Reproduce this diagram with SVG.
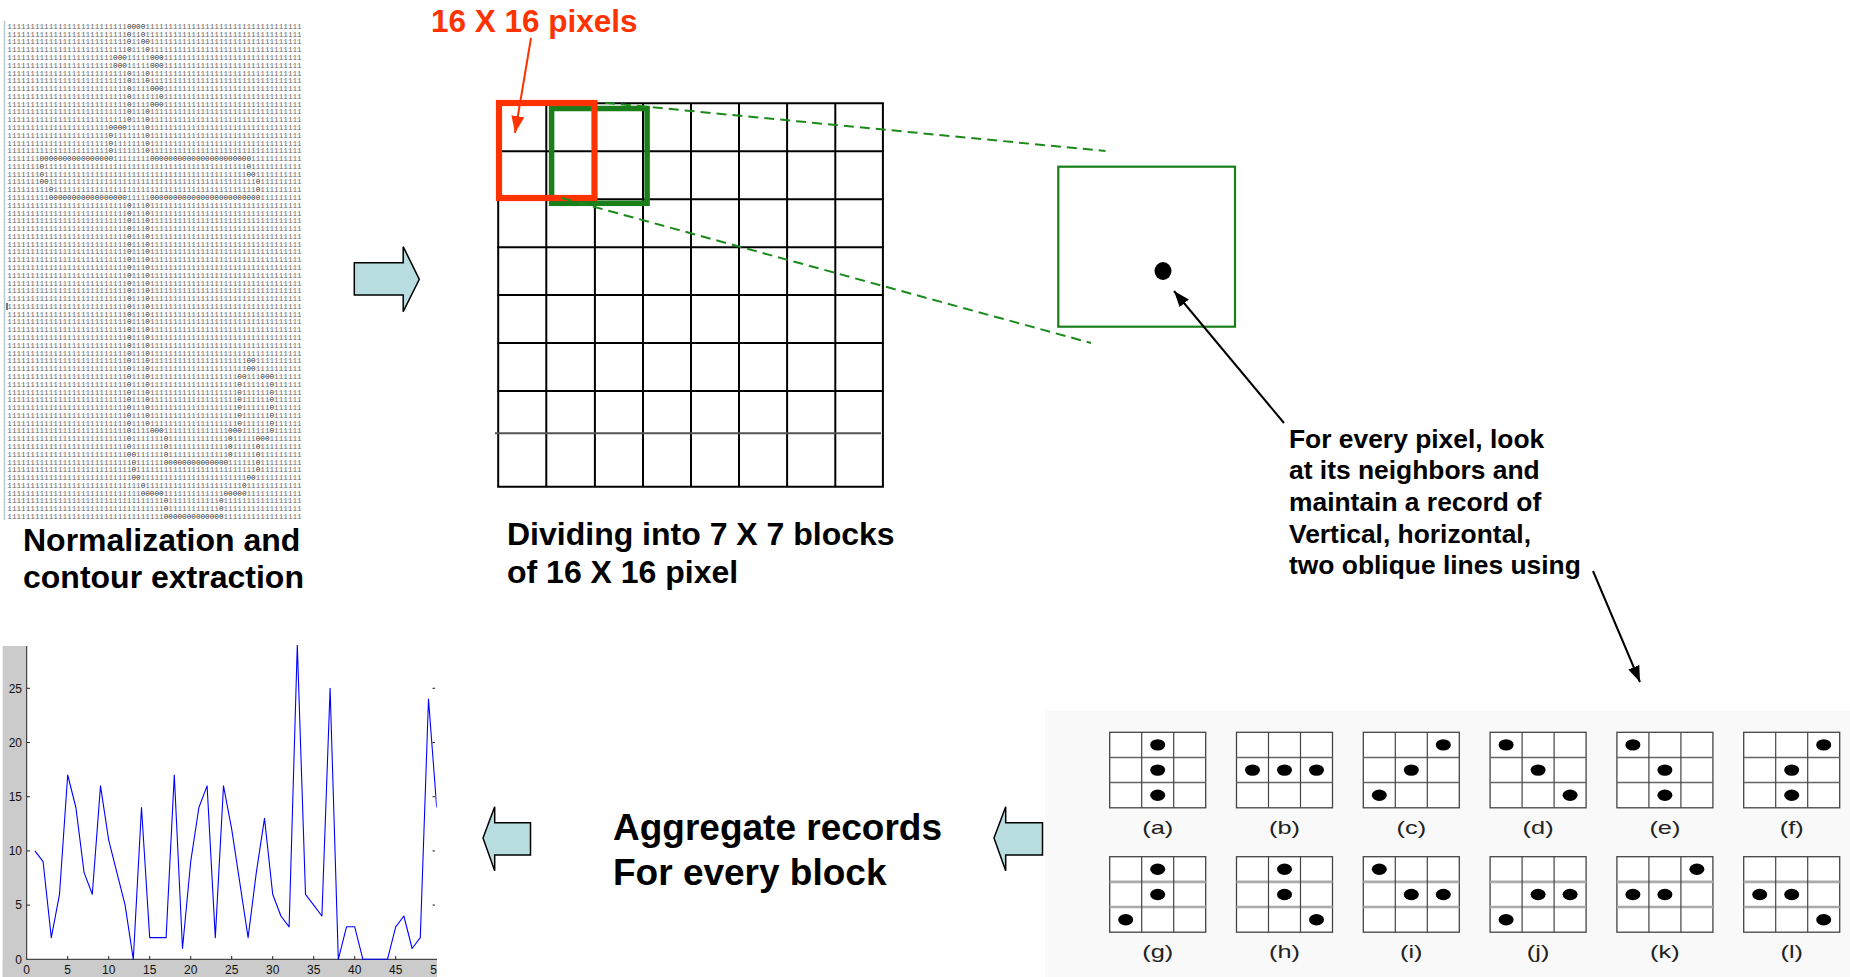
<svg xmlns="http://www.w3.org/2000/svg" xmlns:xlink="http://www.w3.org/1999/xlink" width="1850" height="977" viewBox="0 0 1850 977">
<defs>
<style>
.b{font-family:"Liberation Sans",Arial,sans-serif;font-weight:bold;fill:#000}
.m{font-family:"Liberation Mono","Courier New",monospace;font-size:7.6px;fill:#666}
.z{fill:#2e2e2e}
.gl{stroke:#000;stroke-width:2;fill:none}
.tk{font-family:"Liberation Sans",Arial,sans-serif;font-size:12px;fill:#111}
.pl{font-family:"Liberation Sans",Arial,sans-serif;font-size:17.5px;fill:#222}
.blk{fill:#B7DDE0;stroke:#000;stroke-width:1.5;stroke-linejoin:miter}
.dash{stroke:#1A8A1A;stroke-width:2;stroke-dasharray:10 6;fill:none}
.dot{fill:#000}
</style>
<marker id="ahk" markerUnits="userSpaceOnUse" markerWidth="16" markerHeight="12" viewBox="0 0 16 12" refX="16" refY="6" orient="auto"><path d="M0,0 L16,6 L0,12 z" fill="#000"/></marker>
<marker id="ahr" markerUnits="userSpaceOnUse" markerWidth="17" markerHeight="13" viewBox="0 0 17 13" refX="17" refY="6.5" orient="auto"><path d="M0,0 L17,6.5 L0,13 z" fill="#FF3300"/></marker>
<clipPath id="pc"><rect x="26.7" y="645" width="410" height="315"/></clipPath>
<clipPath id="lc"><rect x="0" y="960" width="437" height="17"/></clipPath>
<g id="pg1"><rect x="0" y="0" width="96" height="75.5" fill="#fff" stroke="#444" stroke-width="1.3"/><line x1="0" y1="25.2" x2="96" y2="25.2" stroke="#666" stroke-width="1.5"/><line x1="0" y1="50.3" x2="96" y2="50.3" stroke="#666" stroke-width="1.5"/><line x1="32" y1="0" x2="32" y2="75.5" stroke="#444" stroke-width="1.2"/><line x1="64" y1="0" x2="64" y2="75.5" stroke="#444" stroke-width="1.2"/></g>
<g id="pg2"><rect x="0" y="0" width="96" height="75.5" fill="#fff" stroke="#444" stroke-width="1.3"/><line x1="0" y1="25.2" x2="96" y2="25.2" stroke="#aaa" stroke-width="2.6"/><line x1="0" y1="50.3" x2="96" y2="50.3" stroke="#aaa" stroke-width="2.6"/><line x1="32" y1="0" x2="32" y2="75.5" stroke="#444" stroke-width="1.2"/><line x1="64" y1="0" x2="64" y2="75.5" stroke="#444" stroke-width="1.2"/></g>
</defs>
<rect width="1850" height="977" fill="#fff"/>

<g id="matrix">
<line x1="4.5" y1="21" x2="4.5" y2="520" stroke="#B8C8D8" stroke-width="1.5"/>
<line x1="7" y1="303" x2="7" y2="310" stroke="#222" stroke-width="1.2"/>
<text class="m" x="7.3" y="28.8" textLength="294.4" lengthAdjust="spacingAndGlyphs">11111111111111111111111111<tspan class="z">0000</tspan>1111111111111111111111111111111111</text>
<text class="m" x="7.3" y="36.6" textLength="294.4" lengthAdjust="spacingAndGlyphs">11111111111111111111111111<tspan class="z">0</tspan>11<tspan class="z">0</tspan>1111111111111111111111111111111111</text>
<text class="m" x="7.3" y="44.4" textLength="294.4" lengthAdjust="spacingAndGlyphs">11111111111111111111111111<tspan class="z">0</tspan>11<tspan class="z">00</tspan>111111111111111111111111111111111</text>
<text class="m" x="7.3" y="52.1" textLength="294.4" lengthAdjust="spacingAndGlyphs">11111111111111111111111111<tspan class="z">0</tspan>111<tspan class="z">0</tspan>111111111111111111111111111111111</text>
<text class="m" x="7.3" y="59.9" textLength="294.4" lengthAdjust="spacingAndGlyphs">11111111111111111111111<tspan class="z">000</tspan>11111<tspan class="z">000</tspan>111111111111111111111111111111</text>
<text class="m" x="7.3" y="67.7" textLength="294.4" lengthAdjust="spacingAndGlyphs">11111111111111111111111<tspan class="z">000</tspan>11111<tspan class="z">000</tspan>111111111111111111111111111111</text>
<text class="m" x="7.3" y="75.5" textLength="294.4" lengthAdjust="spacingAndGlyphs">11111111111111111111111111<tspan class="z">0</tspan>111<tspan class="z">0</tspan>111111111111111111111111111111111</text>
<text class="m" x="7.3" y="83.3" textLength="294.4" lengthAdjust="spacingAndGlyphs">11111111111111111111111111<tspan class="z">0</tspan>111<tspan class="z">0</tspan>111111111111111111111111111111111</text>
<text class="m" x="7.3" y="91.0" textLength="294.4" lengthAdjust="spacingAndGlyphs">11111111111111111111111111<tspan class="z">0</tspan>1111<tspan class="z">000</tspan>111111111111111111111111111111</text>
<text class="m" x="7.3" y="98.8" textLength="294.4" lengthAdjust="spacingAndGlyphs">11111111111111111111111111<tspan class="z">0</tspan>111111<tspan class="z">0</tspan>111111111111111111111111111111</text>
<text class="m" x="7.3" y="106.6" textLength="294.4" lengthAdjust="spacingAndGlyphs">11111111111111111111111111<tspan class="z">0</tspan>1111<tspan class="z">000</tspan>111111111111111111111111111111</text>
<text class="m" x="7.3" y="114.4" textLength="294.4" lengthAdjust="spacingAndGlyphs">11111111111111111111111111<tspan class="z">0</tspan>111<tspan class="z">0</tspan>111111111111111111111111111111111</text>
<text class="m" x="7.3" y="122.2" textLength="294.4" lengthAdjust="spacingAndGlyphs">11111111111111111111111111<tspan class="z">0</tspan>111<tspan class="z">0</tspan>111111111111111111111111111111111</text>
<text class="m" x="7.3" y="129.9" textLength="294.4" lengthAdjust="spacingAndGlyphs">1111111111111111111111<tspan class="z">0000</tspan>1111<tspan class="z">0</tspan>111111111111111111111111111111111</text>
<text class="m" x="7.3" y="137.7" textLength="294.4" lengthAdjust="spacingAndGlyphs">1111111111111111111111<tspan class="z">0</tspan>1111111<tspan class="z">0</tspan>111111111111111111111111111111111</text>
<text class="m" x="7.3" y="145.5" textLength="294.4" lengthAdjust="spacingAndGlyphs">1111111111111111111111<tspan class="z">0</tspan>1111111<tspan class="z">0</tspan>111111111111111111111111111111111</text>
<text class="m" x="7.3" y="153.3" textLength="294.4" lengthAdjust="spacingAndGlyphs">1111111111111111111111<tspan class="z">0</tspan>1111111<tspan class="z">0</tspan>111111111111111111111111111111111</text>
<text class="m" x="7.3" y="161.1" textLength="294.4" lengthAdjust="spacingAndGlyphs">1111111<tspan class="z">0000000000000000</tspan>11111111<tspan class="z">0000000000000000000000</tspan>11111111111</text>
<text class="m" x="7.3" y="168.8" textLength="294.4" lengthAdjust="spacingAndGlyphs">1111111<tspan class="z">0</tspan>11111111111111111111111111111111111111111111<tspan class="z">0</tspan>11111111111</text>
<text class="m" x="7.3" y="176.6" textLength="294.4" lengthAdjust="spacingAndGlyphs">1111111<tspan class="z">0</tspan>11111111111111111111111111111111111111111111<tspan class="z">00</tspan>1111111111</text>
<text class="m" x="7.3" y="184.4" textLength="294.4" lengthAdjust="spacingAndGlyphs">1111111<tspan class="z">00</tspan>111111111111111111111111111111111111111111111<tspan class="z">0</tspan>111111111</text>
<text class="m" x="7.3" y="192.2" textLength="294.4" lengthAdjust="spacingAndGlyphs">111111111<tspan class="z">0</tspan>11111111111111111111111111111111111111111111<tspan class="z">0</tspan>111111111</text>
<text class="m" x="7.3" y="200.0" textLength="294.4" lengthAdjust="spacingAndGlyphs">111111111<tspan class="z">00000000000000000</tspan>11111<tspan class="z">000000000000000000000000</tspan>111111111</text>
<text class="m" x="7.3" y="207.7" textLength="294.4" lengthAdjust="spacingAndGlyphs">11111111111111111111111111<tspan class="z">0</tspan>111<tspan class="z">0</tspan>111111111111111111111111111111111</text>
<text class="m" x="7.3" y="215.5" textLength="294.4" lengthAdjust="spacingAndGlyphs">11111111111111111111111111<tspan class="z">0</tspan>111<tspan class="z">0</tspan>111111111111111111111111111111111</text>
<text class="m" x="7.3" y="223.3" textLength="294.4" lengthAdjust="spacingAndGlyphs">11111111111111111111111111<tspan class="z">0</tspan>111<tspan class="z">0</tspan>111111111111111111111111111111111</text>
<text class="m" x="7.3" y="231.1" textLength="294.4" lengthAdjust="spacingAndGlyphs">11111111111111111111111111<tspan class="z">0</tspan>111<tspan class="z">0</tspan>111111111111111111111111111111111</text>
<text class="m" x="7.3" y="238.9" textLength="294.4" lengthAdjust="spacingAndGlyphs">11111111111111111111111111<tspan class="z">0</tspan>111<tspan class="z">0</tspan>111111111111111111111111111111111</text>
<text class="m" x="7.3" y="246.6" textLength="294.4" lengthAdjust="spacingAndGlyphs">11111111111111111111111111<tspan class="z">0</tspan>111<tspan class="z">0</tspan>111111111111111111111111111111111</text>
<text class="m" x="7.3" y="254.4" textLength="294.4" lengthAdjust="spacingAndGlyphs">11111111111111111111111111<tspan class="z">0</tspan>111<tspan class="z">0</tspan>111111111111111111111111111111111</text>
<text class="m" x="7.3" y="262.2" textLength="294.4" lengthAdjust="spacingAndGlyphs">11111111111111111111111111<tspan class="z">0</tspan>111<tspan class="z">0</tspan>111111111111111111111111111111111</text>
<text class="m" x="7.3" y="270.0" textLength="294.4" lengthAdjust="spacingAndGlyphs">11111111111111111111111111<tspan class="z">0</tspan>111<tspan class="z">0</tspan>111111111111111111111111111111111</text>
<text class="m" x="7.3" y="277.8" textLength="294.4" lengthAdjust="spacingAndGlyphs">11111111111111111111111111<tspan class="z">0</tspan>111<tspan class="z">0</tspan>111111111111111111111111111111111</text>
<text class="m" x="7.3" y="285.5" textLength="294.4" lengthAdjust="spacingAndGlyphs">11111111111111111111111111<tspan class="z">0</tspan>111<tspan class="z">0</tspan>111111111111111111111111111111111</text>
<text class="m" x="7.3" y="293.3" textLength="294.4" lengthAdjust="spacingAndGlyphs">11111111111111111111111111<tspan class="z">0</tspan>111<tspan class="z">0</tspan>111111111111111111111111111111111</text>
<text class="m" x="7.3" y="301.1" textLength="294.4" lengthAdjust="spacingAndGlyphs">11111111111111111111111111<tspan class="z">0</tspan>111<tspan class="z">0</tspan>111111111111111111111111111111111</text>
<text class="m" x="7.3" y="308.9" textLength="294.4" lengthAdjust="spacingAndGlyphs">11111111111111111111111111<tspan class="z">0</tspan>111<tspan class="z">0</tspan>111111111111111111111111111111111</text>
<text class="m" x="7.3" y="316.7" textLength="294.4" lengthAdjust="spacingAndGlyphs">11111111111111111111111111<tspan class="z">0</tspan>111<tspan class="z">0</tspan>111111111111111111111111111111111</text>
<text class="m" x="7.3" y="324.4" textLength="294.4" lengthAdjust="spacingAndGlyphs">11111111111111111111111111<tspan class="z">0</tspan>111<tspan class="z">0</tspan>111111111111111111111111111111111</text>
<text class="m" x="7.3" y="332.2" textLength="294.4" lengthAdjust="spacingAndGlyphs">11111111111111111111111111<tspan class="z">0</tspan>111<tspan class="z">0</tspan>111111111111111111111111111111111</text>
<text class="m" x="7.3" y="340.0" textLength="294.4" lengthAdjust="spacingAndGlyphs">11111111111111111111111111<tspan class="z">0</tspan>111<tspan class="z">0</tspan>111111111111111111111111111111111</text>
<text class="m" x="7.3" y="347.8" textLength="294.4" lengthAdjust="spacingAndGlyphs">11111111111111111111111111<tspan class="z">0</tspan>111<tspan class="z">0</tspan>111111111111111111111111111111111</text>
<text class="m" x="7.3" y="355.6" textLength="294.4" lengthAdjust="spacingAndGlyphs">11111111111111111111111111<tspan class="z">0</tspan>111<tspan class="z">0</tspan>111111111111111111111111111111111</text>
<text class="m" x="7.3" y="363.3" textLength="294.4" lengthAdjust="spacingAndGlyphs">11111111111111111111111111<tspan class="z">0</tspan>111<tspan class="z">0</tspan>111111111111111111111<tspan class="z">00</tspan>1111111111</text>
<text class="m" x="7.3" y="371.1" textLength="294.4" lengthAdjust="spacingAndGlyphs">11111111111111111111111111<tspan class="z">0</tspan>111<tspan class="z">0</tspan>111111111111111111111<tspan class="z">00</tspan>1111111111</text>
<text class="m" x="7.3" y="378.9" textLength="294.4" lengthAdjust="spacingAndGlyphs">11111111111111111111111111<tspan class="z">0</tspan>111<tspan class="z">0</tspan>1111111111111111111<tspan class="z">00</tspan>111<tspan class="z">000</tspan>111111</text>
<text class="m" x="7.3" y="386.7" textLength="294.4" lengthAdjust="spacingAndGlyphs">11111111111111111111111111<tspan class="z">0</tspan>111<tspan class="z">0</tspan>1111111111111111111<tspan class="z">0</tspan>111111<tspan class="z">0</tspan>111111</text>
<text class="m" x="7.3" y="394.5" textLength="294.4" lengthAdjust="spacingAndGlyphs">11111111111111111111111111<tspan class="z">0</tspan>111<tspan class="z">0</tspan>1111111111111111111<tspan class="z">0</tspan>111111<tspan class="z">0</tspan>111111</text>
<text class="m" x="7.3" y="402.2" textLength="294.4" lengthAdjust="spacingAndGlyphs">11111111111111111111111111<tspan class="z">0</tspan>111<tspan class="z">0</tspan>1111111111111111111<tspan class="z">0</tspan>111111<tspan class="z">0</tspan>111111</text>
<text class="m" x="7.3" y="410.0" textLength="294.4" lengthAdjust="spacingAndGlyphs">11111111111111111111111111<tspan class="z">0</tspan>111<tspan class="z">0</tspan>1111111111111111111<tspan class="z">0</tspan>111111<tspan class="z">0</tspan>111111</text>
<text class="m" x="7.3" y="417.8" textLength="294.4" lengthAdjust="spacingAndGlyphs">11111111111111111111111111<tspan class="z">0</tspan>111<tspan class="z">0</tspan>1111111111111111111<tspan class="z">0</tspan>111111<tspan class="z">0</tspan>111111</text>
<text class="m" x="7.3" y="425.6" textLength="294.4" lengthAdjust="spacingAndGlyphs">11111111111111111111111111<tspan class="z">0</tspan>111<tspan class="z">0</tspan>1111111111111111111<tspan class="z">0</tspan>111111<tspan class="z">0</tspan>111111</text>
<text class="m" x="7.3" y="433.4" textLength="294.4" lengthAdjust="spacingAndGlyphs">11111111111111111111111111<tspan class="z">0</tspan>1111<tspan class="z">000</tspan>11111111111111<tspan class="z">000</tspan>111111<tspan class="z">0</tspan>111111</text>
<text class="m" x="7.3" y="441.1" textLength="294.4" lengthAdjust="spacingAndGlyphs">11111111111111111111111111<tspan class="z">0</tspan>1111111<tspan class="z">0</tspan>1111111111111<tspan class="z">0</tspan>11111<tspan class="z">000</tspan>1111111</text>
<text class="m" x="7.3" y="448.9" textLength="294.4" lengthAdjust="spacingAndGlyphs">11111111111111111111111111<tspan class="z">0</tspan>1111111<tspan class="z">0</tspan>1111111111111<tspan class="z">0</tspan>11111<tspan class="z">0</tspan>111111111</text>
<text class="m" x="7.3" y="456.7" textLength="294.4" lengthAdjust="spacingAndGlyphs">11111111111111111111111111<tspan class="z">00</tspan>111111<tspan class="z">0</tspan>1111111111111<tspan class="z">0</tspan>11111<tspan class="z">0</tspan>111111111</text>
<text class="m" x="7.3" y="464.5" textLength="294.4" lengthAdjust="spacingAndGlyphs">111111111111111111111111111<tspan class="z">0</tspan>111111<tspan class="z">00000000000000</tspan>111111<tspan class="z">0</tspan>111111111</text>
<text class="m" x="7.3" y="472.3" textLength="294.4" lengthAdjust="spacingAndGlyphs">111111111111111111111111111<tspan class="z">0</tspan>11111111111111111111111111<tspan class="z">0</tspan>111111111</text>
<text class="m" x="7.3" y="480.0" textLength="294.4" lengthAdjust="spacingAndGlyphs">111111111111111111111111111<tspan class="z">00</tspan>11111111111111111111111<tspan class="z">00</tspan>1111111111</text>
<text class="m" x="7.3" y="487.8" textLength="294.4" lengthAdjust="spacingAndGlyphs">11111111111111111111111111111<tspan class="z">0</tspan>111111111111111111111<tspan class="z">0</tspan>111111111111</text>
<text class="m" x="7.3" y="495.6" textLength="294.4" lengthAdjust="spacingAndGlyphs">11111111111111111111111111111<tspan class="z">00000</tspan>1111111111111<tspan class="z">00000</tspan>111111111111</text>
<text class="m" x="7.3" y="503.4" textLength="294.4" lengthAdjust="spacingAndGlyphs">1111111111111111111111111111111111<tspan class="z">0</tspan>11111111111<tspan class="z">0</tspan>11111111111111111</text>
<text class="m" x="7.3" y="511.2" textLength="294.4" lengthAdjust="spacingAndGlyphs">1111111111111111111111111111111111<tspan class="z">0</tspan>11111111111<tspan class="z">0</tspan>11111111111111111</text>
<text class="m" x="7.3" y="518.9" textLength="294.4" lengthAdjust="spacingAndGlyphs">1111111111111111111111111111111111<tspan class="z">0000000000000</tspan>11111111111111111</text>
</g>

<g id="label-normalization">
<text class="b" font-size="32" x="23" y="550.5">Normalization and</text>
<text class="b" font-size="32" x="23" y="588">contour extraction</text>
</g>

<g id="grid">
<line class="gl" x1="498.2" y1="103.3" x2="498.2" y2="486.7"/>
<line class="gl" x1="546.3" y1="103.3" x2="546.3" y2="486.7"/>
<line class="gl" x1="594.9" y1="103.3" x2="594.9" y2="486.7"/>
<line class="gl" x1="643" y1="103.3" x2="643" y2="486.7"/>
<line class="gl" x1="691" y1="103.3" x2="691" y2="486.7"/>
<line class="gl" x1="739" y1="103.3" x2="739" y2="486.7"/>
<line class="gl" x1="787.1" y1="103.3" x2="787.1" y2="486.7"/>
<line class="gl" x1="835.3" y1="103.3" x2="835.3" y2="486.7"/>
<line class="gl" x1="882.9" y1="103.3" x2="882.9" y2="486.7"/>
<line class="gl" x1="497.2" y1="103.3" x2="883.9" y2="103.3"/>
<line class="gl" x1="497.2" y1="151.2" x2="883.9" y2="151.2"/>
<line class="gl" x1="497.2" y1="199.2" x2="883.9" y2="199.2"/>
<line class="gl" x1="497.2" y1="247.2" x2="883.9" y2="247.2"/>
<line class="gl" x1="497.2" y1="295.1" x2="883.9" y2="295.1"/>
<line class="gl" x1="497.2" y1="343" x2="883.9" y2="343"/>
<line class="gl" x1="497.2" y1="390.9" x2="883.9" y2="390.9"/>
<line x1="495" y1="433.3" x2="881" y2="433.3" stroke="#555" stroke-width="2"/>
<line class="gl" x1="497.2" y1="486.7" x2="883.9" y2="486.7"/>
</g>

<g id="green-window">
<rect x="551.6" y="108.5" width="95.5" height="94.8" fill="none" stroke="#1A7F1A" stroke-width="5.5"/>
</g>
<g id="red-window">
<rect x="499" y="103" width="95.5" height="95" fill="none" stroke="#FF3300" stroke-width="6.2"/>
</g>

<g id="label-red">
<text class="b" font-size="31.5" x="431" y="32" style="fill:#FF3300">16 X 16 pixels</text>
</g>

<g id="label-dividing">
<text class="b" font-size="32" x="507" y="544.5">Dividing into 7 X 7 blocks</text>
<text class="b" font-size="32" x="507" y="582.5">of 16 X 16 pixel</text>
</g>

<g id="zoom-block">
<rect x="1058.3" y="166.7" width="176.7" height="160" fill="none" stroke="#1A7F1A" stroke-width="2.2"/>
<ellipse class="dot" cx="1163" cy="271" rx="8.5" ry="9"/>
</g>

<g id="label-pixel">
<text class="b" font-size="26.4" x="1289" y="447.5">For every pixel, look</text>
<text class="b" font-size="26.4" x="1289" y="479">at its neighbors and</text>
<text class="b" font-size="26.4" x="1289" y="511">maintain a record of</text>
<text class="b" font-size="26.4" x="1289" y="542.5">Vertical, horizontal,</text>
<text class="b" font-size="26.4" x="1289" y="574">two oblique lines using</text>
</g>

<g id="patterns">
<rect x="1045" y="711" width="805" height="266" fill="#F9F9F9"/>
<use xlink:href="#pg1" x="1109.7" y="732.3"/>
<use xlink:href="#pg1" x="1236.5" y="732.3"/>
<use xlink:href="#pg1" x="1363.3" y="732.3"/>
<use xlink:href="#pg1" x="1490.1" y="732.3"/>
<use xlink:href="#pg1" x="1616.9" y="732.3"/>
<use xlink:href="#pg1" x="1743.7" y="732.3"/>
<use xlink:href="#pg2" x="1109.7" y="856.7"/>
<use xlink:href="#pg2" x="1236.5" y="856.7"/>
<use xlink:href="#pg2" x="1363.3" y="856.7"/>
<use xlink:href="#pg2" x="1490.1" y="856.7"/>
<use xlink:href="#pg2" x="1616.9" y="856.7"/>
<use xlink:href="#pg2" x="1743.7" y="856.7"/>
<g fill="#000">
<ellipse cx="1157.7" cy="744.9" rx="7.5" ry="5.7"/><ellipse cx="1157.7" cy="770.1" rx="7.5" ry="5.7"/><ellipse cx="1157.7" cy="795.3" rx="7.5" ry="5.7"/>
<ellipse cx="1252.5" cy="770.1" rx="7.5" ry="5.7"/><ellipse cx="1284.5" cy="770.1" rx="7.5" ry="5.7"/><ellipse cx="1316.5" cy="770.1" rx="7.5" ry="5.7"/>
<ellipse cx="1443.3" cy="744.9" rx="7.5" ry="5.7"/><ellipse cx="1411.3" cy="770.1" rx="7.5" ry="5.7"/><ellipse cx="1379.3" cy="795.3" rx="7.5" ry="5.7"/>
<ellipse cx="1506.1" cy="744.9" rx="7.5" ry="5.7"/><ellipse cx="1538.1" cy="770.1" rx="7.5" ry="5.7"/><ellipse cx="1570.1" cy="795.3" rx="7.5" ry="5.7"/>
<ellipse cx="1632.9" cy="744.9" rx="7.5" ry="5.7"/><ellipse cx="1664.9" cy="770.1" rx="7.5" ry="5.7"/><ellipse cx="1664.9" cy="795.3" rx="7.5" ry="5.7"/>
<ellipse cx="1823.7" cy="744.9" rx="7.5" ry="5.7"/><ellipse cx="1791.7" cy="770.1" rx="7.5" ry="5.7"/><ellipse cx="1791.7" cy="795.3" rx="7.5" ry="5.7"/>
<ellipse cx="1157.7" cy="869.3" rx="7.5" ry="5.7"/><ellipse cx="1157.7" cy="894.5" rx="7.5" ry="5.7"/><ellipse cx="1125.7" cy="919.7" rx="7.5" ry="5.7"/>
<ellipse cx="1284.5" cy="869.3" rx="7.5" ry="5.7"/><ellipse cx="1284.5" cy="894.5" rx="7.5" ry="5.7"/><ellipse cx="1316.5" cy="919.7" rx="7.5" ry="5.7"/>
<ellipse cx="1379.3" cy="869.3" rx="7.5" ry="5.7"/><ellipse cx="1411.3" cy="894.5" rx="7.5" ry="5.7"/><ellipse cx="1443.3" cy="894.5" rx="7.5" ry="5.7"/>
<ellipse cx="1538.1" cy="894.5" rx="7.5" ry="5.7"/><ellipse cx="1570.1" cy="894.5" rx="7.5" ry="5.7"/><ellipse cx="1506.1" cy="919.7" rx="7.5" ry="5.7"/>
<ellipse cx="1696.9" cy="869.3" rx="7.5" ry="5.7"/><ellipse cx="1632.9" cy="894.5" rx="7.5" ry="5.7"/><ellipse cx="1664.9" cy="894.5" rx="7.5" ry="5.7"/>
<ellipse cx="1759.7" cy="894.5" rx="7.5" ry="5.7"/><ellipse cx="1791.7" cy="894.5" rx="7.5" ry="5.7"/><ellipse cx="1823.7" cy="919.7" rx="7.5" ry="5.7"/>
</g>
<g class="pl" text-anchor="middle">
<text transform="translate(1157.7,834) scale(1.45,1)">(a)</text>
<text transform="translate(1284.5,834) scale(1.45,1)">(b)</text>
<text transform="translate(1411.3,834) scale(1.45,1)">(c)</text>
<text transform="translate(1538.1,834) scale(1.45,1)">(d)</text>
<text transform="translate(1664.9,834) scale(1.45,1)">(e)</text>
<text transform="translate(1791.7,834) scale(1.45,1)">(f)</text>
<text transform="translate(1157.7,958) scale(1.45,1)">(g)</text>
<text transform="translate(1284.5,958) scale(1.45,1)">(h)</text>
<text transform="translate(1411.3,958) scale(1.45,1)">(i)</text>
<text transform="translate(1538.1,958) scale(1.45,1)">(j)</text>
<text transform="translate(1664.9,958) scale(1.45,1)">(k)</text>
<text transform="translate(1791.7,958) scale(1.45,1)">(l)</text>
</g>
</g>

<g id="label-aggregate">
<text class="b" font-size="37" x="613" y="840">Aggregate records</text>
<text class="b" font-size="37" x="613" y="884.5">For every block</text>
</g>

<g id="chart">
<rect x="2.7" y="646" width="24" height="331" fill="#CBCBCB"/>
<rect x="2.7" y="959.3" width="434.3" height="17.7" fill="#CBCBCB"/>
<line x1="26.7" y1="646" x2="26.7" y2="959.8" stroke="#222" stroke-width="1"/>
<line x1="26.7" y1="959.3" x2="437" y2="959.3" stroke="#222" stroke-width="1"/>
<g stroke="#222" stroke-width="1">
<line x1="26.7" y1="905.1" x2="30" y2="905.1"/><line x1="26.7" y1="850.9" x2="30" y2="850.9"/><line x1="26.7" y1="796.7" x2="30" y2="796.7"/><line x1="26.7" y1="742.5" x2="30" y2="742.5"/><line x1="26.7" y1="688.3" x2="30" y2="688.3"/>
<line x1="432.5" y1="905.1" x2="435" y2="905.1"/><line x1="432.5" y1="850.9" x2="435" y2="850.9"/><line x1="432.5" y1="796.7" x2="435" y2="796.7"/><line x1="432.5" y1="742.5" x2="435" y2="742.5"/><line x1="432.5" y1="688.3" x2="435" y2="688.3"/>
<line x1="67.7" y1="959.3" x2="67.7" y2="956"/><line x1="108.7" y1="959.3" x2="108.7" y2="956"/><line x1="149.7" y1="959.3" x2="149.7" y2="956"/><line x1="190.7" y1="959.3" x2="190.7" y2="956"/><line x1="231.7" y1="959.3" x2="231.7" y2="956"/><line x1="272.7" y1="959.3" x2="272.7" y2="956"/><line x1="313.7" y1="959.3" x2="313.7" y2="956"/><line x1="354.7" y1="959.3" x2="354.7" y2="956"/><line x1="395.7" y1="959.3" x2="395.7" y2="956"/>
</g>
<polyline clip-path="url(#pc)" fill="none" stroke="#0000FF" stroke-width="1.1" stroke-linejoin="round" points="34.9,850.9 43.1,861.7 51.3,937.6 59.5,894.3 67.7,775 75.9,807.5 84.1,872.6 92.3,894.3 100.5,785.9 108.7,840.1 116.9,872.6 125.1,905.1 133.3,959.3 141.5,807.5 149.7,937.6 157.9,937.6 166.1,937.6 174.3,775 182.5,948.5 190.7,861.7 198.9,807.5 207.1,785.9 215.3,937.6 223.5,785.9 231.7,829.2 239.9,883.4 248.1,937.6 256.3,872.6 264.5,818.4 272.7,894.3 280.9,916 289.1,926.8 297.3,645 305.5,894.3 313.7,905.1 321.9,916 330.1,688.3 338.3,959.3 346.5,926.8 354.7,926.8 362.9,959.3 371.1,959.3 379.3,959.3 387.5,959.3 395.7,926.8 403.9,916 412.1,948.5 420.3,937.6 428.5,699.1 436.7,807.5"/>
<g class="tk" text-anchor="end">
<text x="22" y="963.5">0</text><text x="22" y="909.3">5</text><text x="22" y="855.1">10</text><text x="22" y="800.9">15</text><text x="22" y="746.7">20</text><text x="22" y="692.5">25</text>
</g>
<g class="tk" text-anchor="middle">
<text x="26.7" y="974">0</text><text x="67.7" y="974">5</text><text x="108.7" y="974">10</text><text x="149.7" y="974">15</text><text x="190.7" y="974">20</text><text x="231.7" y="974">25</text><text x="272.7" y="974">30</text><text x="313.7" y="974">35</text><text x="354.7" y="974">40</text><text x="395.7" y="974">45</text>
</g>
<text class="tk" x="430.2" y="974" clip-path="url(#lc)">5</text>
</g>

<g id="connectors">
<polygon class="blk" points="354.3,262.7 403.2,262.7 403.2,246.7 419.3,279.3 403.2,311.7 403.2,295 354.3,295"/>
<polygon class="blk" points="483,838 494.7,806.7 494.7,822.7 530.5,822.7 530.5,855 494.7,855 494.7,870.7"/>
<polygon class="blk" points="994,838 1005.7,806.7 1005.7,822.7 1042.5,822.7 1042.5,855 1005.7,855 1005.7,870.7"/>
<line class="dash" x1="605" y1="102.7" x2="1105.5" y2="151"/>
<line class="dash" x1="562" y1="198" x2="1091" y2="343"/>
<line x1="531" y1="38" x2="515" y2="133" stroke="#FF3300" stroke-width="2" marker-end="url(#ahr)"/>
<line x1="1284" y1="423" x2="1174" y2="291" stroke="#000" stroke-width="2" marker-end="url(#ahk)"/>
<line x1="1593" y1="571" x2="1640" y2="682" stroke="#000" stroke-width="2" marker-end="url(#ahk)"/>
</g>
</svg>
